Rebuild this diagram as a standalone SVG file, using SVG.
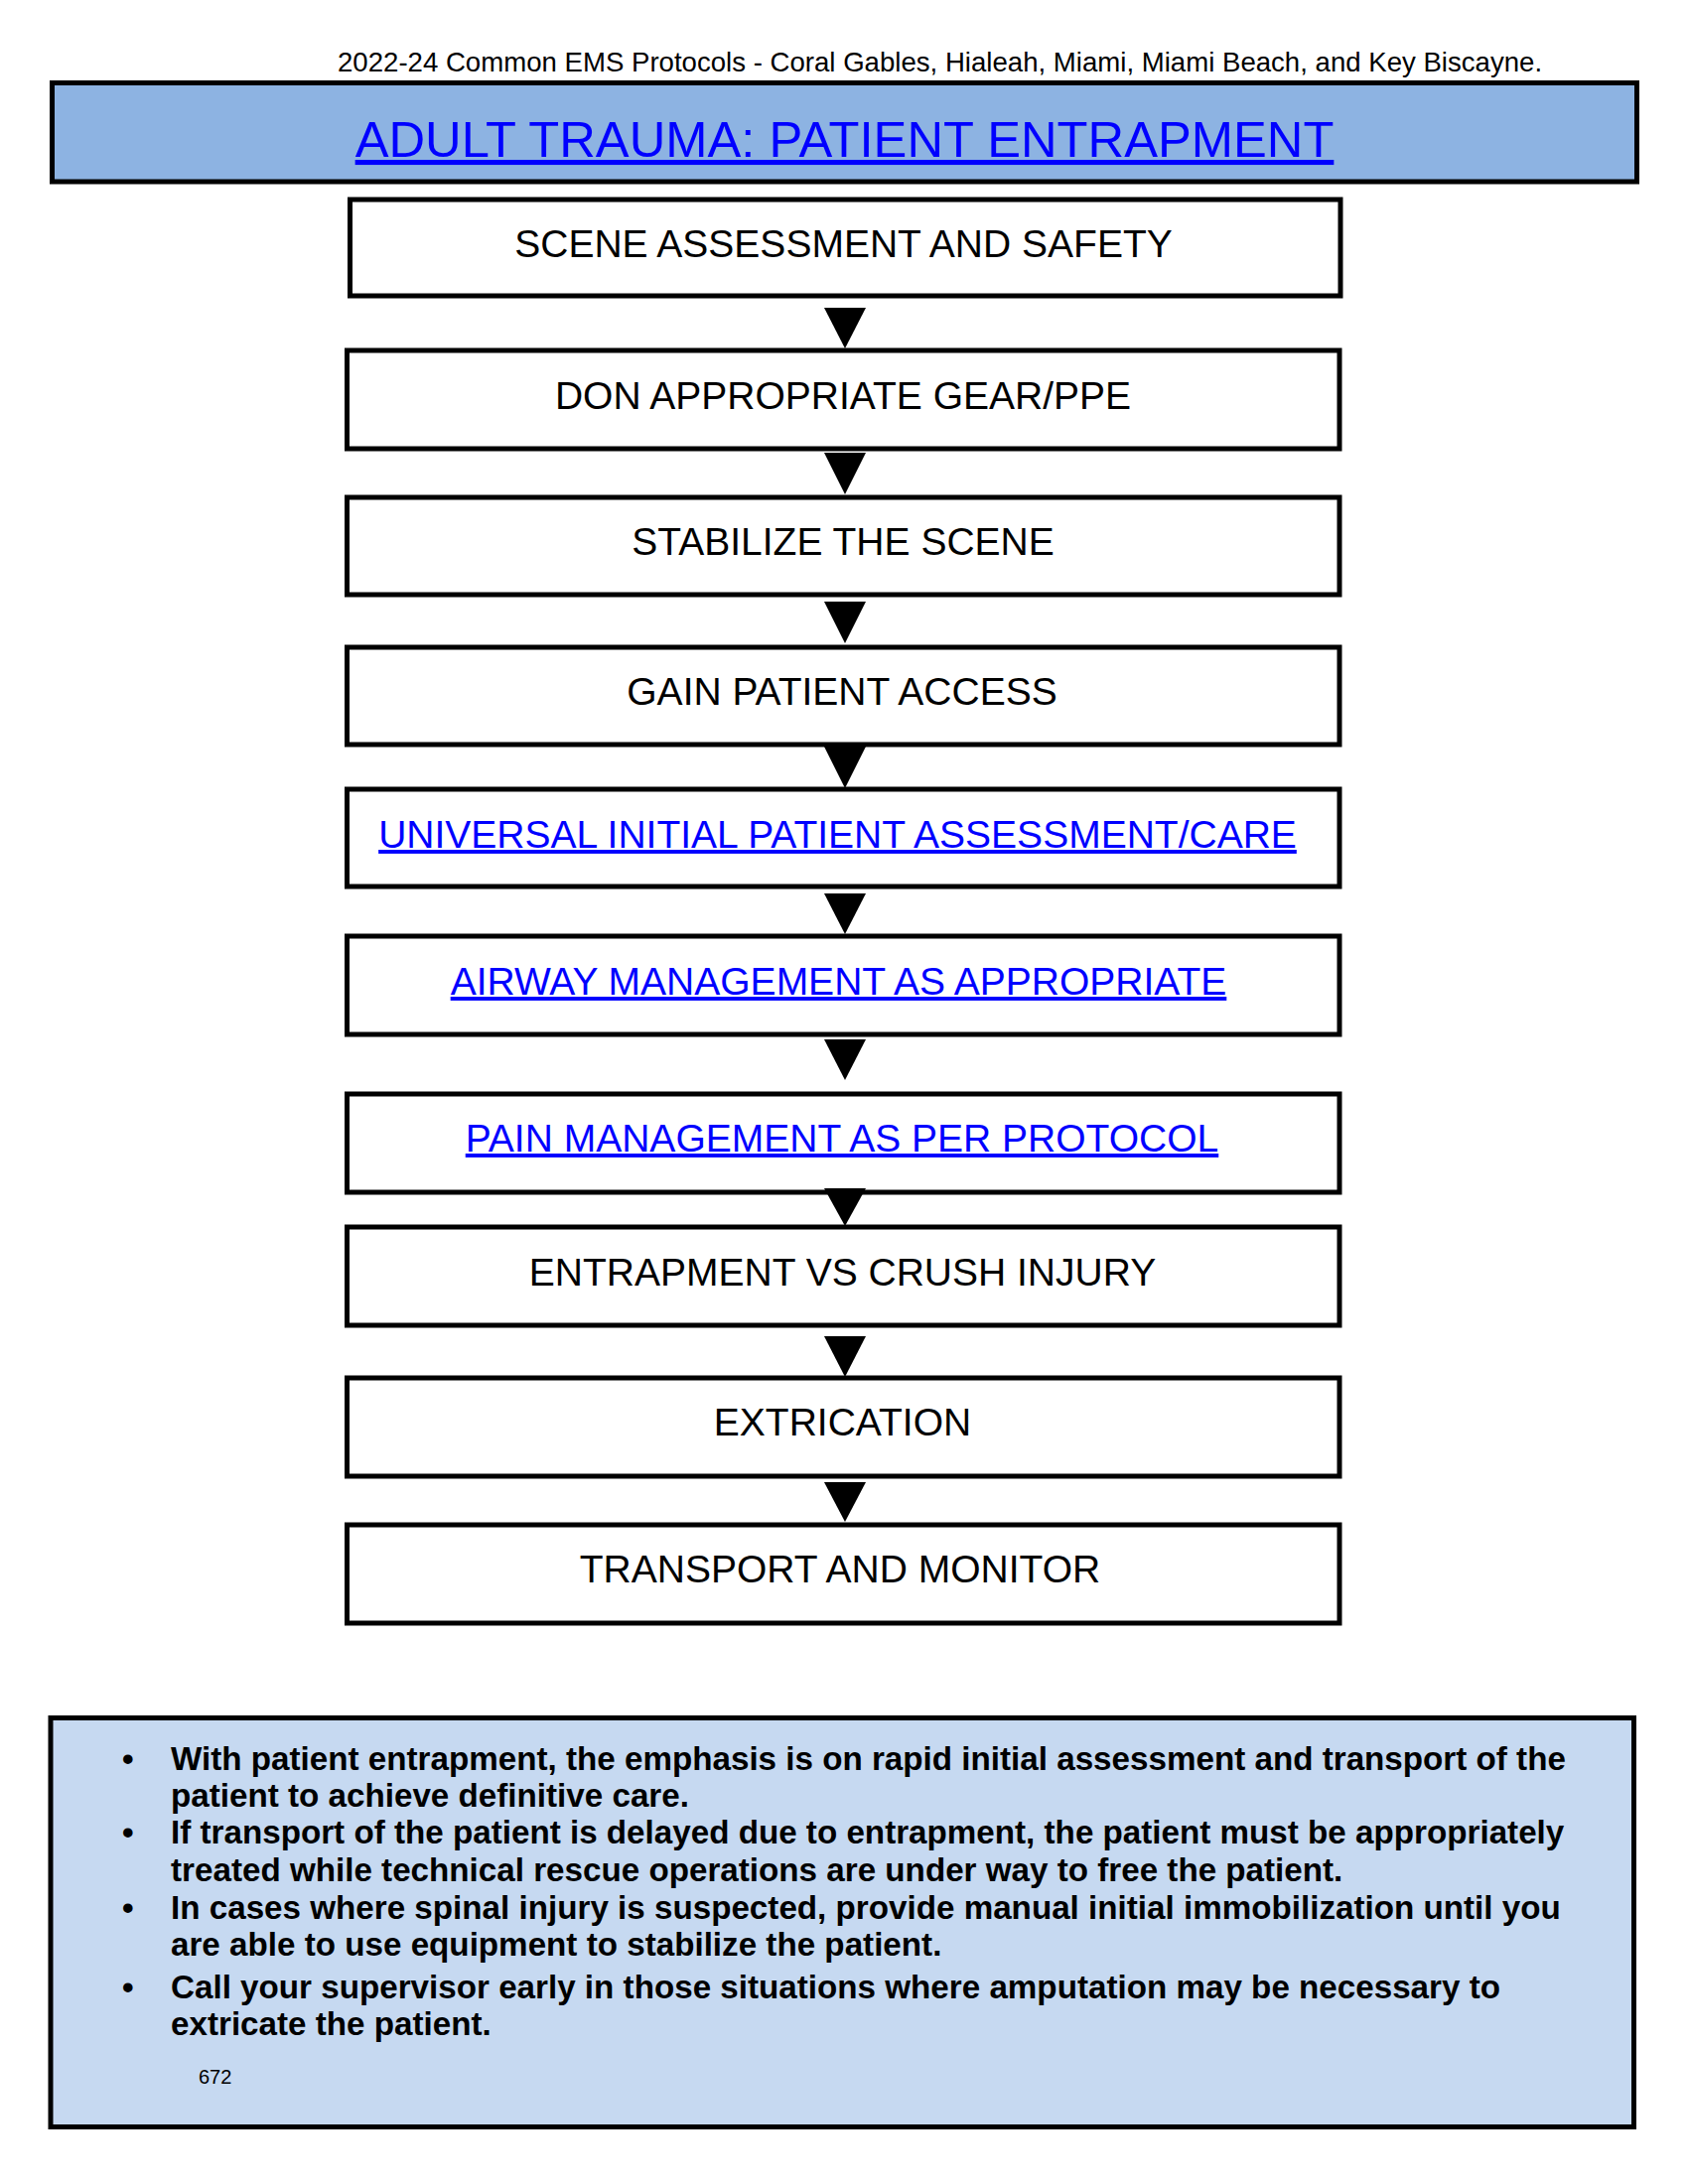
<svg xmlns="http://www.w3.org/2000/svg" width="1700" height="2200" viewBox="0 0 1700 2200">
<style>
.box{fill:#FFFFFF;stroke:#000000;stroke-width:5}
.lbl{font-family:"Liberation Sans",Arial,sans-serif;font-size:39px;fill:#000000;text-anchor:middle}
.link{fill:#0000FF;text-decoration:underline}
.arrow{fill:#000000}
.note{font-family:"Liberation Sans",Arial,sans-serif;font-size:33.2px;font-weight:bold;fill:#000000}
</style>
<rect width="1700" height="2200" fill="#FFFFFF"/>
<text id="header" x="340" y="72" font-family="Liberation Sans, Arial, sans-serif" font-size="27.6" fill="#000000">2022-24 Common EMS Protocols - Coral Gables, Hialeah, Miami, Miami Beach, and Key Biscayne.</text>
<g id="title">
<rect x="52.5" y="83.5" width="1596" height="99.5" fill="#8DB3E2" stroke="#000000" stroke-width="5"/>
<text x="850.5" y="158" font-family="Liberation Sans, Arial, sans-serif" font-size="50.7" fill="#0000FF" text-anchor="middle" text-decoration="underline">ADULT TRAUMA: PATIENT ENTRAPMENT</text>
</g>
<g id="n1"><rect class="box" x="352.5" y="201" width="997.5" height="97"/><text class="lbl" x="849.5" y="259">SCENE ASSESSMENT AND SAFETY</text></g>
<g id="n2"><rect class="box" x="349.5" y="353" width="999.5" height="99"/><text class="lbl" x="849" y="411.5">DON APPROPRIATE GEAR/PPE</text></g>
<g id="n3"><rect class="box" x="349.5" y="501" width="999.5" height="98"/><text class="lbl" x="849" y="559">STABILIZE THE SCENE</text></g>
<g id="n4"><rect class="box" x="349.5" y="652" width="999.5" height="98"/><text class="lbl" x="848" y="710">GAIN PATIENT ACCESS</text></g>
<g id="n5"><rect class="box" x="349.5" y="795" width="999.5" height="98"/><text class="lbl link" x="843.5" y="854">UNIVERSAL INITIAL PATIENT ASSESSMENT/CARE</text></g>
<g id="n6"><rect class="box" x="349.5" y="943" width="999.5" height="99"/><text class="lbl link" x="844.5" y="1002">AIRWAY MANAGEMENT AS APPROPRIATE</text></g>
<g id="n7"><rect class="box" x="349.5" y="1102" width="999.5" height="99"/><text class="lbl link" x="848" y="1160">PAIN MANAGEMENT AS PER PROTOCOL</text></g>
<g id="n8"><rect class="box" x="349.5" y="1236" width="999.5" height="99"/><text class="lbl" x="848.5" y="1294.5">ENTRAPMENT VS CRUSH INJURY</text></g>
<g id="n9"><rect class="box" x="349.5" y="1388" width="999.5" height="99"/><text class="lbl" x="848.5" y="1446">EXTRICATION</text></g>
<g id="n10"><rect class="box" x="349.5" y="1536" width="999.5" height="99"/><text class="lbl" x="846" y="1594">TRANSPORT AND MONITOR</text></g>
<g id="connectors">
<polygon class="arrow" points="830,310 872,310 851,351"/>
<polygon class="arrow" points="830,456 872,456 851,498"/>
<polygon class="arrow" points="830,606 872,606 851,648"/>
<polygon class="arrow" points="830,752 872,752 851,794"/>
<polygon class="arrow" points="830,900 872,900 851,941"/>
<polygon class="arrow" points="830,1047 872,1047 851,1088"/>
<polygon class="arrow" points="830,1197 872,1197 851,1235"/>
<polygon class="arrow" points="830,1346 872,1346 851,1387"/>
<polygon class="arrow" points="830,1493 872,1493 851,1533"/>
</g>
<g id="notes">
<rect x="51" y="1730.5" width="1594.5" height="412" fill="#C6D9F1" stroke="#000000" stroke-width="5"/>
<text class="note" x="123" y="1783">•</text>
<text class="note" x="172" y="1783">With patient entrapment, the emphasis is on rapid initial assessment and transport of the</text>
<text class="note" x="172" y="1820">patient to achieve definitive care.</text>
<text class="note" x="123" y="1857">•</text>
<text class="note" x="172" y="1857">If transport of the patient is delayed due to entrapment, the patient must be appropriately</text>
<text class="note" x="172" y="1895">treated while technical rescue operations are under way to free the patient.</text>
<text class="note" x="123" y="1933">•</text>
<text class="note" x="172" y="1933">In cases where spinal injury is suspected, provide manual initial immobilization until you</text>
<text class="note" x="172" y="1970">are able to use equipment to stabilize the patient.</text>
<text class="note" x="123" y="2013">•</text>
<text class="note" x="172" y="2013">Call your supervisor early in those situations where amputation may be necessary to</text>
<text class="note" x="172" y="2050">extricate the patient.</text>
<text x="200" y="2099" font-family="Liberation Sans, Arial, sans-serif" font-size="20" fill="#000000">672</text>
</g>
</svg>
